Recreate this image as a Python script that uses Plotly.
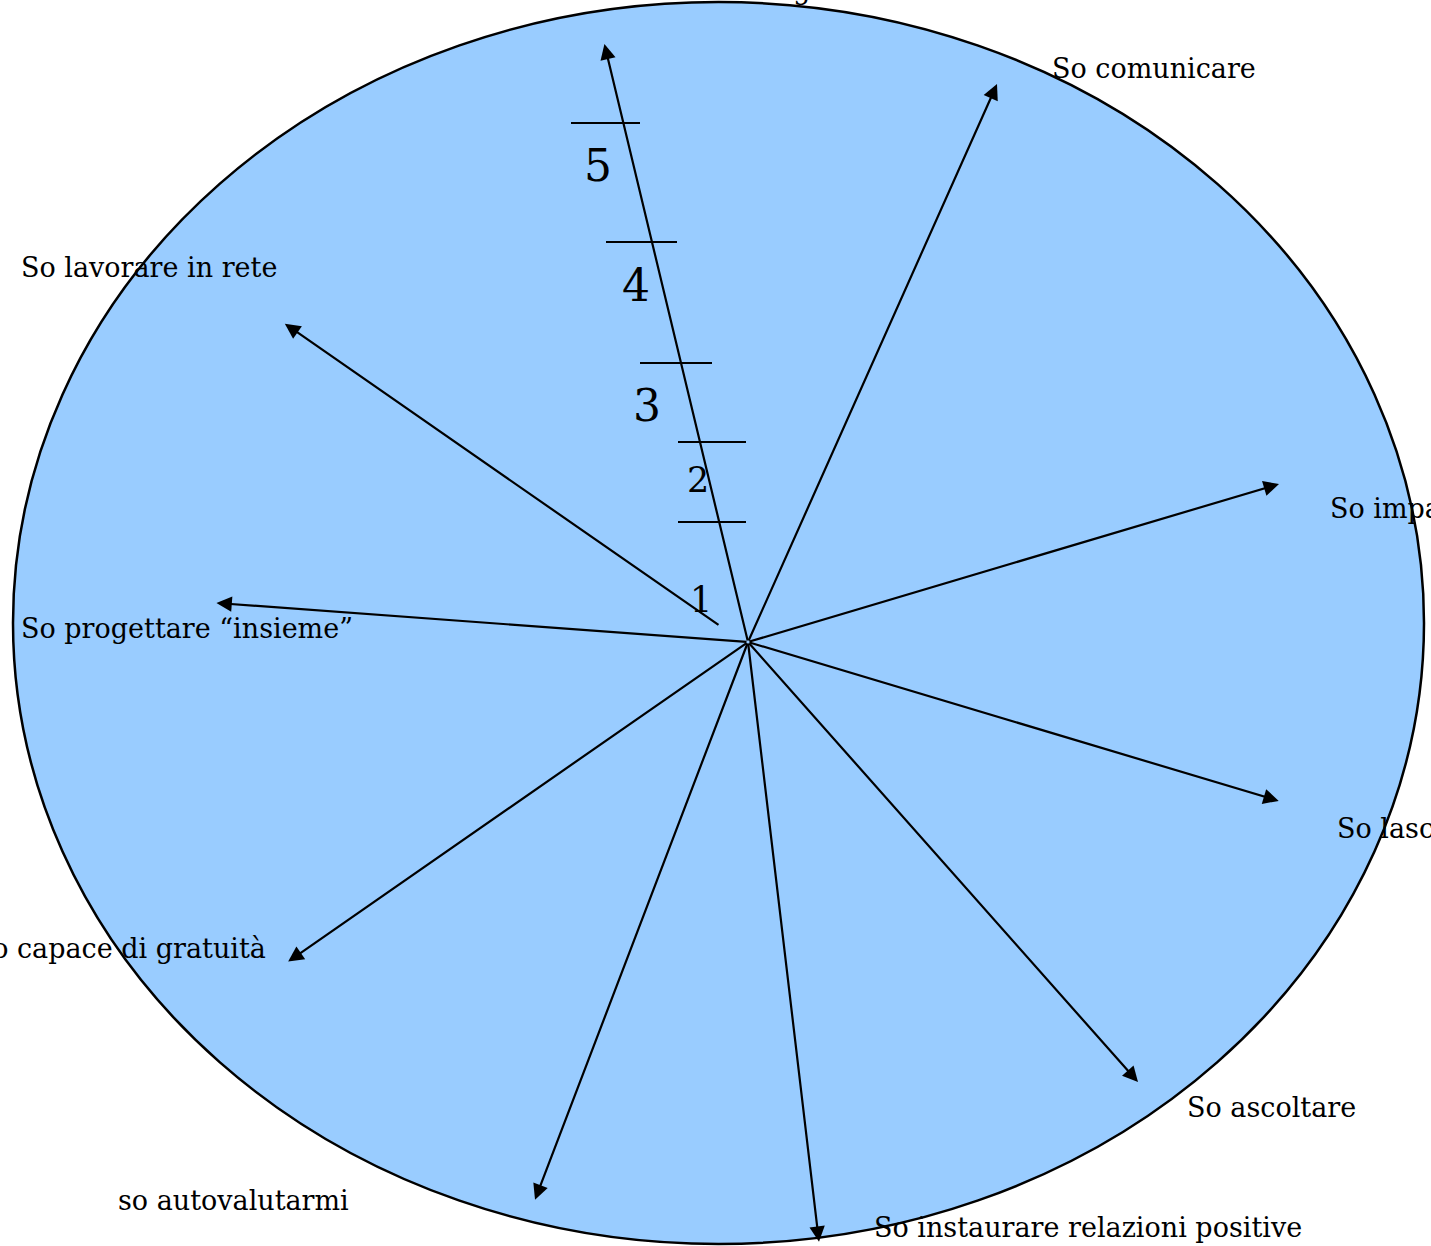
import math
import plotly.graph_objects as go

# ---- data ----
labels = ["So dialogare", "So comunicare", "So imparare", "So lasciarmi coinvolgere",
          "So ascoltare", "So instaurare relazioni positive", "so autovalutarmi",
          "Sono capace di gratuità", "So progettare “insieme”", "So lavorare in rete"]
# arrow direction (degrees, counter-clockwise from east) and length (px)
arrow_angle = [103.5, 65.95, 16.57, -16.67, -48.45, -83.25, -110.9, -145.2, 175.8, 145.5]
arrow_length = [615, 611, 554, 554, 588, 604, 597, 560, 533, 562]
arrow_start = [0, 0, 0, 0, 0, 0, 0, 0, 0, 32]

# scale on the first axis
scale_labels = ["1", "2", "3", "4", "5"]
scale_label_x = [701, 698, 647, 636, 598]
scale_label_y = [600, 480, 405, 285, 165]
scale_label_size = [35, 35, 44, 44, 44]
tick_y = [522, 442, 363, 242, 123]
tick_x0 = [678, 678, 640, 606, 571]
tick_x1 = [746, 746, 712, 677, 640]

# label positions: x, y, anchor
label_x = [681, 1050, 1328, 1335, 1185, 872, 116, 268, 19, 19]
label_y = [-10, 68, 508, 828, 1107, 1227, 1200, 948, 628, 268]
label_anchor = ["left", "left", "left", "left", "left", "left", "left", "right", "left", "left"]

CX, CY = 748, 642
W, H = 1431, 1246
FONT = "DejaVu Serif"

fig = go.Figure()

# tick segments
tx, ty = [], []
for y, a, b in zip(tick_y, tick_x0, tick_x1):
    tx += [a, b, None]
    ty += [y, y, None]
fig.add_trace(go.Scatter(x=tx, y=ty, mode="lines", line=dict(color="black", width=2),
                         hoverinfo="skip", showlegend=False))

# ellipse
fig.add_shape(type="circle", xref="x", yref="y", x0=13, x1=1424, y0=2, y1=1244,
              fillcolor="#99CCFF", line=dict(color="black", width=2.5), layer="below")

anns = []
for ang, ln, st in zip(arrow_angle, arrow_length, arrow_start):
    r = math.radians(ang)
    x1 = CX + ln * math.cos(r)
    y1 = CY - ln * math.sin(r)
    x0 = CX + st * math.cos(r) if st == 0 else 720
    y0 = CY - st * math.sin(r) if st == 0 else 626
    anns.append(dict(x=x1, y=y1, ax=x0, ay=y0, xref="x", yref="y", axref="x", ayref="y",
                     showarrow=True, arrowhead=2, arrowsize=1.4, arrowwidth=2.2,
                     arrowcolor="black", text=""))

for t, x, y, s in zip(scale_labels, scale_label_x, scale_label_y, scale_label_size):
    anns.append(dict(x=x, y=y, xref="x", yref="y", text=t, showarrow=False,
                     font=dict(family=FONT, size=s, color="black"),
                     xanchor="center", yanchor="middle"))

for t, x, y, a in zip(labels, label_x, label_y, label_anchor):
    anns.append(dict(x=x / W, y=1 - y / H, xref="paper", yref="paper", text=t,
                     showarrow=False, font=dict(family=FONT, size=27, color="black"),
                     xanchor=a, yanchor="middle"))

fig.update_layout(
    width=W, height=H, margin=dict(l=0, r=0, t=0, b=0),
    paper_bgcolor="white", plot_bgcolor="white",
    xaxis=dict(range=[0, W], visible=False, fixedrange=True),
    yaxis=dict(range=[H, 0], visible=False, fixedrange=True),
    annotations=anns, showlegend=False,
)
fig.write_html("out.html", config={"displayModeBar": False},
               post_script="document.body.style.margin='0';document.body.style.overflow='hidden';")
